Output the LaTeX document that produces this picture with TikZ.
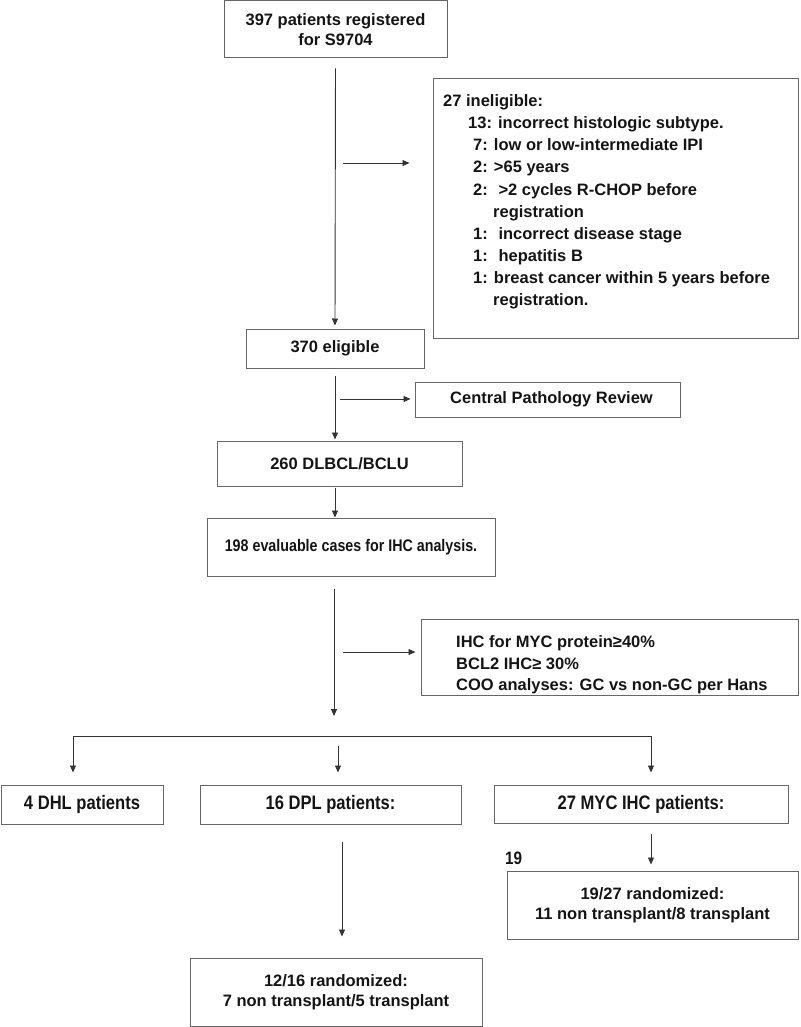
\documentclass[tikz,border=0pt]{standalone}
\usepackage{fontspec}
\setmainfont{Liberation Sans}
\newfontfamily\condfont[FakeStretch=0.85]{Liberation Sans}
\usetikzlibrary{arrows.meta}
\begin{document}
\begin{tikzpicture}[x=1pt,y=-1pt,
  every node/.style={font=\fontsize{16.5}{20.5}\selectfont\bfseries, text=black!92},
  box/.style={draw=black!60, line width=1pt, inner sep=0pt, align=center},
  cond/.style={font=\fontsize{19.5}{21}\selectfont\condfont\bfseries},
  condsm/.style={font=\fontsize{16.8}{21}\selectfont\condfont\bfseries},
  txt/.style={inner sep=0pt, anchor=base west},
  arr/.style={draw=black!80, line width=0.9pt, -{Triangle[length=7pt,width=6pt]}},
  ln/.style={draw=black!80, line width=0.9pt}]
\useasboundingbox (0,0) rectangle (800,1027);

% boxes
\node[box, minimum width=223pt, minimum height=57pt] (reg) at (335.5,29.5) {397 patients registered\\for S9704};
\node[box, minimum width=365pt, minimum height=259pt] (inel) at (615.5,208.5) {};
\node[box, minimum width=178pt, minimum height=39pt] (elig) at (335,348.5) {370 eligible};
\node[box, minimum width=265pt, minimum height=35pt] (cpr) at (547.5,399.5) {\hspace*{8pt}Central Pathology Review};
\node[box, minimum width=245pt, minimum height=45pt] (dlbcl) at (339.5,463.5) {260 DLBCL/BCLU};
\node[box, condsm, minimum width=288pt, minimum height=58pt] (eval) at (351,547) {198 evaluable cases for IHC analysis.};
\node[box, minimum width=377pt, minimum height=76pt] (ihc) at (609.5,657) {};
\node[box, cond, minimum width=162pt, minimum height=39pt] (dhl) at (82,804.5) {4 DHL patients};
\node[box, cond, minimum width=261pt, minimum height=39pt] (dpl) at (330.5,804.5) {16 DPL patients:};
\node[box, cond, minimum width=294pt, minimum height=38pt] (myc) at (641,804) {27 MYC IHC patients:};
\node[box, minimum width=291pt, minimum height=68pt] (r19) at (652.5,905) {19/27 randomized:\\11 non transplant/8 transplant};
\node[box, minimum width=292pt, minimum height=68pt] (r12) at (336,992) {12/16 randomized:\\7 non transplant/5 transplant};

% ineligible text
\node[txt] (i1) at (443,107) {27 ineligible:};
\node[txt] (i2) at (468,129) {13: incorrect histologic subtype.};
\node[txt] (i3) at (473,151) {7: low or low-intermediate IPI};
\node[txt] (i4) at (473,173) {2: >65 years};
\node[txt] (i5) at (473,195) {2:~ >2 cycles R-CHOP before};
\node[txt] (i6) at (493,217) {registration};
\node[txt] (i7) at (473,239) {1:~ incorrect disease stage};
\node[txt] (i8) at (473,261) {1:~ hepatitis B};
\node[txt] (i9) at (473,283) {1: breast cancer within 5 years before};
\node[txt] (i10) at (493,305) {registration.};

% IHC criteria text
\node[txt] (h1) at (456,647) {IHC for MYC protein≥40\%};
\node[txt] (h2) at (456,669) {BCL2 IHC≥ 30\%};
\node[txt] (h3) at (456,690) {COO analyses: GC vs non-GC per Hans};

\node[inner sep=0pt, anchor=west, cond, font=\fontsize{18}{21}\selectfont\condfont\bfseries] (n19) at (505,858) {19};

% coordinates
\coordinate (s1) at (343,163);
\coordinate (s2) at (340,399);
\coordinate (s3) at (343,652);
\coordinate (tip4) at (334,716);
\coordinate (bl) at (73,736);
\coordinate (br) at (651,736);
\coordinate (dplt) at (338,746);
\coordinate (dpx) at (342,0);

% main flow
\draw[arr, shorten <=10pt, shorten >=3pt] (reg.south) -- (elig.north);
\draw[arr, shorten >=23pt] (s1) -- (s1 -| inel.west);
\draw[arr, shorten <=7pt, shorten >=1pt] (elig.south) -- (elig.south |- dlbcl.north);
\draw[arr, shorten >=4pt] (s2) -- (s2 -| cpr.west);
\draw[arr, shorten <=1pt] (elig.south |- dlbcl.south) -- (elig.south |- eval.north);
\draw[arr, shorten <=12pt] (tip4 |- eval.south) -- (tip4);
\draw[arr, shorten >=5pt] (s3) -- (s3 -| ihc.west);

% branch
\draw[ln] (bl) -- (br);
\draw[arr, shorten >=12pt] (bl) -- (bl |- dhl.north);
\draw[arr, shorten >=12pt] (br) -- (br |- myc.north);
\draw[arr, shorten >=12pt] (dplt) -- (dplt |- dpl.north);

% lower arrows
\draw[arr, shorten <=10pt, shorten >=6pt] (br |- myc.south) -- (br |- r19.north);
\draw[arr, shorten <=17pt, shorten >=21pt] (dpx |- dpl.south) -- (dpx |- r12.north);
\end{tikzpicture}
\end{document}
